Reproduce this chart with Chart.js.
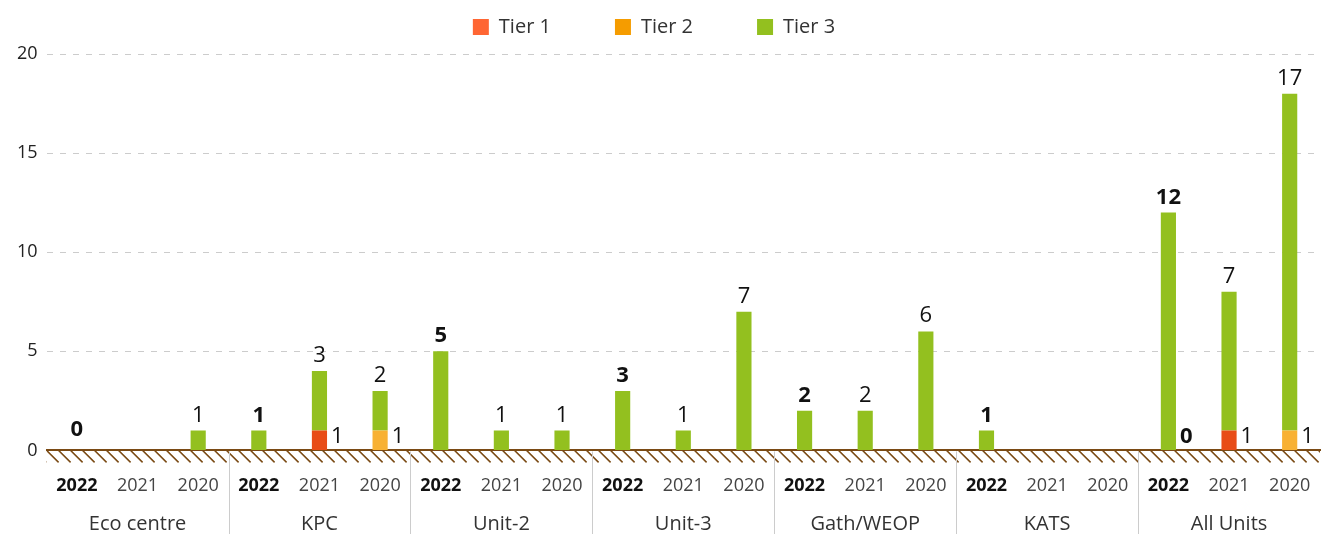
<!DOCTYPE html>
<html>
<head>
<meta charset="utf-8">
<script src="https://cdn.jsdelivr.net/npm/chart.js@4.4.1/dist/chart.umd.min.js"></script>
<style>
  html, body { margin: 0; padding: 0; background: #fff; }
  #wrap { width: 1324px; height: 534px; position: relative; }
</style>
</head>
<body>
<div id="wrap"><canvas id="myChart"></canvas></div>
<script>
const groups = ['Eco centre', 'KPC', 'Unit-2', 'Unit-3', 'Gath/WEOP', 'KATS', 'All Units'];
const years = ['2022', '2021', '2020'];

// one entry per group/year, in the order of groups x years
const tier1 = [null, null, null, null, 1, null, null, null, null, null, null, null,
               null, null, null, null, null, null, 0, 1, null];
const tier2 = [null, null, null, null, null, 1, null, null, null, null, null, null,
               null, null, null, null, null, null, null, null, 1];
const tier3 = [0, null, 1, 1, 3, 2, 5, 1, 1, 3, 1, 7,
               2, 2, 6, 1, null, null, 12, 7, 17];

const categories = [];
groups.forEach(() => years.forEach(y => categories.push(y)));

const barColors = ['#E84C17', '#F8B133', '#93C01F'];
const legendColors = ['#FF6633', '#F59C00', '#93C01F'];
const FONT = "'Open Sans', 'Noto Sans', sans-serif";
// trailing blanks so the legend entries spread out like the original
const legendGaps = ['\u2002\u2002\u2002\u2002\u2005\u200A', '\u2002\u2002\u2002\u2002\u2005\u200A', '\u2002\u2002'];

const decor = {
  id: 'decor',
  afterInit(chart) {
    // a bit more room between the legend and the plot
    const fit = chart.legend.fit;
    chart.legend.fit = function () {
      fit.call(this);
      this.height += 7;
    };
  },
  afterDraw(chart) {
    const ctx = chart.ctx;
    const x = chart.scales.x;
    const y0 = chart.scales.y.getPixelForValue(0);
    const area = chart.chartArea;

    // hatched ground under the axis
    ctx.save();
    ctx.beginPath();
    ctx.rect(area.left, y0, area.right - area.left, 13);
    ctx.clip();
    ctx.strokeStyle = '#7A4A14';
    ctx.lineWidth = 1.5;
    ctx.beginPath();
    for (let px = area.left - 12; px < area.right; px += 12) {
      ctx.moveTo(px, y0);
      ctx.lineTo(px + 12, y0 + 12);
    }
    ctx.stroke();
    ctx.restore();

    // group separators
    ctx.save();
    ctx.strokeStyle = '#cccccc';
    ctx.lineWidth = 1;
    for (let g = 1; g < groups.length; g++) {
      const px = Math.round(x.getPixelForValue(g * years.length - 0.5)) + 0.5;
      ctx.beginPath();
      ctx.moveTo(px, y0 + 1);
      ctx.lineTo(px, chart.height);
      ctx.stroke();
    }
    ctx.restore();

    // value labels
    ctx.save();
    const m1 = chart.getDatasetMeta(0), m2 = chart.getDatasetMeta(1), m3 = chart.getDatasetMeta(2);
    for (let i = 0; i < categories.length; i++) {
      const bold = categories[i] === '2022';
      ctx.font = (bold ? 'bold ' : '') + '22px ' + FONT;
      ctx.fillStyle = '#111';
      ctx.textBaseline = 'alphabetic';
      if (tier3[i] !== null) {
        const el = m3.data[i];
        ctx.textAlign = 'center';
        ctx.fillText(String(tier3[i]), el.x, el.y - (tier3[i] === 0 ? 14 : 9));
      }
      [[tier1, m1], [tier2, m2]].forEach(([arr, meta]) => {
        if (arr[i] === null) return;
        const el = meta.data[i];
        ctx.textAlign = 'left';
        const ty = Math.min((el.y + el.base) / 2 + 8, y0 - 7);
        ctx.fillText(String(arr[i]), el.x + el.width / 2 + 4, ty);
      });
    }
    ctx.restore();
  }
};

new Chart(document.getElementById('myChart'), {
  type: 'bar',
  data: {
    labels: categories,
    datasets: [
      { label: 'Tier 1', data: tier1, backgroundColor: barColors[0] },
      { label: 'Tier 2', data: tier2, backgroundColor: barColors[1] },
      { label: 'Tier 3', data: tier3, backgroundColor: barColors[2] }
    ]
  },
  options: {
    responsive: true,
    maintainAspectRatio: false,
    animation: false,
    layout: { padding: { left: 8, right: 4, top: 0, bottom: 0 } },
    datasets: { bar: { barPercentage: 0.25, categoryPercentage: 1 } },
    plugins: {
      tooltip: { enabled: false },
      legend: {
        onClick: null,
        labels: {
          font: { family: FONT, size: 20 },
          color: '#333',
          boxWidth: 16,
          boxHeight: 16,
          padding: 17,
          generateLabels(chart) {
            const items = Chart.defaults.plugins.legend.labels.generateLabels(chart);
            items.forEach((it, k) => {
              it.fillStyle = legendColors[k];
              it.strokeStyle = legendColors[k];
              it.lineWidth = 0;
              it.text = it.text + legendGaps[k];
            });
            return items;
          }
        }
      }
    },
    scales: {
      x: {
        stacked: true,
        border: { display: true, color: '#7A4A14', width: 2 },
        grid: { display: false, drawTicks: true, tickLength: 22 },
        ticks: {
          padding: 3,
          font: c => ({ family: FONT, size: 18, weight: categories[c.index] === '2022' ? 'bold' : 'normal' }),
          color: c => categories[c.index] === '2022' ? '#111' : '#444'
        }
      },
      x2: {
        type: 'category',
        position: 'bottom',
        labels: groups,
        offset: true,
        border: { display: false },
        grid: { display: false, drawTicks: true, tickLength: 14 },
        ticks: { padding: 0, font: { family: FONT, size: 20, lineHeight: 1 }, color: '#333' }
      },
      y: {
        stacked: true,
        min: 0,
        max: 20,
        border: { display: false, dash: [6, 7] },
        grid: {
          color: c => c.tick.value === 0 ? 'rgba(0,0,0,0)' : '#cccccc',
          drawTicks: false
        },
        ticks: { stepSize: 5, padding: 9, font: { family: FONT, size: 18 }, color: '#222' }
      }
    }
  },
  plugins: [decor]
});
</script>
</body>
</html>
